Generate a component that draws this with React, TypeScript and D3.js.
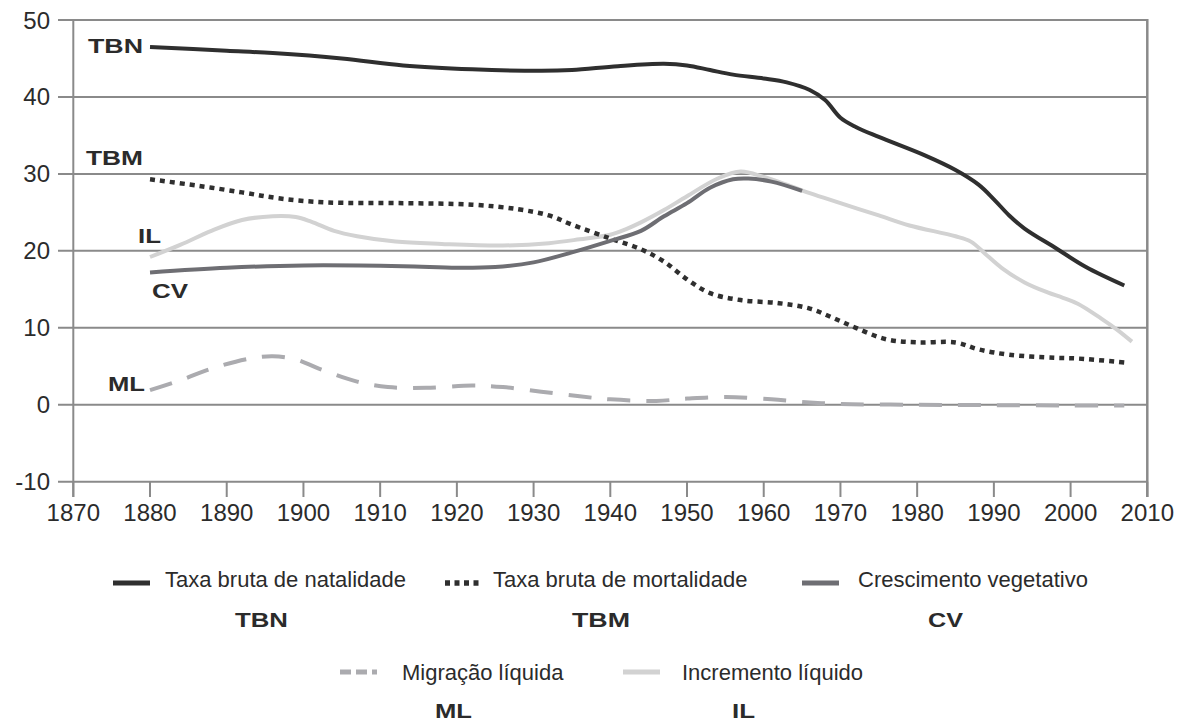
import React from "react";
import * as d3 from "d3";

type P = [number, number];

const yearTicks = [1870, 1880, 1890, 1900, 1910, 1920, 1930, 1940, 1950, 1960, 1970, 1980, 1990, 2000, 2010];
const valueTicks = [-10, 0, 10, 20, 30, 40, 50];

const tbnData: P[] = [[1880,46.5],[1890,46.0],[1896,45.7],[1905,45.0],[1913,44.1],[1922,43.6],[1931,43.4],[1935,43.5],[1941,44.0],[1947,44.3],[1950,44.1],[1953,43.5],[1956,42.9],[1960,42.4],[1963,41.9],[1966,40.9],[1968,39.6],[1970,37.3],[1972,36.1],[1975,34.8],[1981,32.4],[1985,30.5],[1988,28.6],[1990,26.7],[1992,24.6],[1994,22.9],[1998,20.4],[2002,17.9],[2007,15.5]];
const tbmData: P[] = [[1880,29.3],[1886,28.5],[1892,27.6],[1897,26.8],[1903,26.3],[1913,26.2],[1922,26.0],[1928,25.4],[1932,24.6],[1935,23.4],[1940,21.6],[1944,20.2],[1947,18.6],[1950,16.3],[1953,14.5],[1957,13.6],[1962,13.2],[1966,12.5],[1969,11.3],[1972,10.0],[1976,8.5],[1980,8.1],[1985,8.1],[1988,7.2],[1992,6.5],[1998,6.1],[2001,6.0],[2007,5.5]];
const cvData: P[] = [[1880,17.2],[1890,17.8],[1900,18.1],[1913,18.0],[1920,17.8],[1925,17.9],[1930,18.5],[1935,19.8],[1940,21.3],[1944,22.6],[1947,24.5],[1950,26.2],[1953,28.2],[1956,29.3],[1958,29.4],[1961,29.0],[1965,27.8]];
const ilData: P[] = [[1880,19.2],[1884,20.8],[1888,22.6],[1892,24.0],[1896,24.5],[1899,24.4],[1901,23.8],[1904,22.6],[1907,21.9],[1912,21.2],[1918,20.9],[1926,20.7],[1932,21.0],[1936,21.5],[1940,22.1],[1942,22.8],[1944,23.7],[1947,25.3],[1950,27.1],[1954,29.4],[1957,30.3],[1960,29.6],[1963,28.6],[1966,27.5],[1970,26.2],[1975,24.6],[1979,23.3],[1985,21.9],[1987,21.2],[1989,19.5],[1991,17.8],[1994,15.9],[1997,14.6],[1999,13.9],[2001,13.1],[2004,11.2],[2006,9.8],[2008,8.2]];
const mlData: P[] = [[1880,1.9],[1884,3.2],[1888,4.7],[1893,6.0],[1896,6.3],[1899,5.9],[1902,4.7],[1907,3.0],[1911,2.3],[1916,2.2],[1922,2.5],[1926,2.3],[1931,1.7],[1936,1.1],[1940,0.7],[1946,0.5],[1950,0.8],[1955,1.0],[1961,0.7],[1966,0.3],[1970,0.1],[1980,0.0],[1990,-0.05],[2000,-0.1],[2007,-0.1]];

const legendNames = ["Taxa bruta de natalidade", "Taxa bruta de mortalidade", "Crescimento vegetativo", "Migração líquida", "Incremento líquido"];

const FONT = "'Liberation Sans', Arial, Helvetica, sans-serif";
const TEXT = "#2b2b2b";
const GRID = "#8a8a8a";

const styles: Record<string, { stroke: string; width: number; dash?: string }> = {
  TBN: { stroke: "#2f2f2f", width: 4 },
  TBM: { stroke: "#2f2f2f", width: 4.5, dash: "5,5" },
  CV: { stroke: "#6e6e73", width: 4 },
  ML: { stroke: "#ababaf", width: 4, dash: "23,16" },
  IL: { stroke: "#d2d2d2", width: 4 },
};

export default function App() {
  const x = d3.scaleLinear().domain([1870, 2010]).range([73.3, 1147.3]);
  const y = d3.scaleLinear().domain([-10, 50]).range([481.7, 20]);
  const line = d3
    .line<P>()
    .x((d) => x(d[0]))
    .y((d) => y(d[1]))
    .curve(d3.curveCatmullRom.alpha(0.5));

  const series: [string, P[]][] = [
    ["ML", mlData],
    ["IL", ilData],
    ["TBM", tbmData],
    ["CV", cvData],
    ["TBN", tbnData],
  ];

  const chartLabels = [
    { t: "TBN", x: 88, y: 53, w: 55 },
    { t: "TBM", x: 86, y: 165, w: 57 },
    { t: "IL", x: 138, y: 243, w: 23 },
    { t: "CV", x: 152, y: 298, w: 36 },
    { t: "ML", x: 108, y: 391, w: 37 },
  ];

  const legendItems = [
    { k: "TBN", name: legendNames[0], sx: 113, tx: 165, y: 583, tb: 587, bx: 235, bw: 53, by: 627 },
    { k: "TBM", name: legendNames[1], sx: 445, tx: 493, y: 583, tb: 587, bx: 572, bw: 58, by: 627 },
    { k: "CV", name: legendNames[2], sx: 802, tx: 858, y: 583, tb: 587, bx: 928, bw: 35, by: 627 },
    { k: "ML", name: legendNames[3], sx: 340, tx: 402, y: 672, tb: 680, bx: 435, bw: 37, by: 718 },
    { k: "IL", name: legendNames[4], sx: 623, tx: 682, y: 672, tb: 680, bx: 732, bw: 23, by: 718 },
  ];

  const x0 = x(1870);
  const x1 = x(2010);

  return (
    <svg
      width={1182}
      height={722}
      style={{ position: "absolute", left: 0, top: 0, background: "#fff" }}
      fontFamily={FONT}
    >
      <rect width={1182} height={722} fill="#fff" />
      {valueTicks.map((v) => (
        <g key={v}>
          <line x1={58} x2={x1} y1={y(v)} y2={y(v)} stroke={GRID} strokeWidth={2} />
          <text x={50} y={y(v) + 8.5} textAnchor="end" fontSize={24} fill={TEXT}>
            {v}
          </text>
        </g>
      ))}
      <line x1={x0} x2={x0} y1={y(50)} y2={497} stroke={GRID} strokeWidth={2} />
      <line x1={x1} x2={x1} y1={y(50) - 1} y2={497} stroke={GRID} strokeWidth={2.5} />
      {yearTicks.map((t) => (
        <g key={t}>
          <line x1={x(t)} x2={x(t)} y1={y(-10)} y2={497} stroke={GRID} strokeWidth={2} />
          <text x={x(t)} y={520.5} textAnchor="middle" fontSize={24} fill={TEXT}>
            {t}
          </text>
        </g>
      ))}
      {series.map(([k, data]) => (
        <path
          key={k}
          d={line(data) || ""}
          fill="none"
          stroke={styles[k].stroke}
          strokeWidth={styles[k].width}
          strokeDasharray={styles[k].dash}
        />
      ))}
      {chartLabels.map((l) => (
        <text
          key={l.t}
          x={l.x}
          y={l.y}
          fontSize={21}
          fontWeight="bold"
          fill={TEXT}
          textLength={l.w}
          lengthAdjust="spacingAndGlyphs"
        >
          {l.t}
        </text>
      ))}
      {legendItems.map((it) => (
        <g key={it.k}>
          <line
            x1={it.sx}
            x2={it.sx + 37}
            y1={it.y}
            y2={it.y}
            stroke={styles[it.k].stroke}
            strokeWidth={styles[it.k].width + 1}
            strokeDasharray={it.k === "TBM" ? "5,4.5" : it.k === "ML" ? "11,5" : undefined}
          />
          <text x={it.tx} y={it.tb} fontSize={22} fill={TEXT}>
            {it.name}
          </text>
          <text
            x={it.bx}
            y={it.by}
            fontSize={20}
            fontWeight="bold"
            fill={TEXT}
            textLength={it.bw}
            lengthAdjust="spacingAndGlyphs"
          >
            {it.k}
          </text>
        </g>
      ))}
    </svg>
  );
}
